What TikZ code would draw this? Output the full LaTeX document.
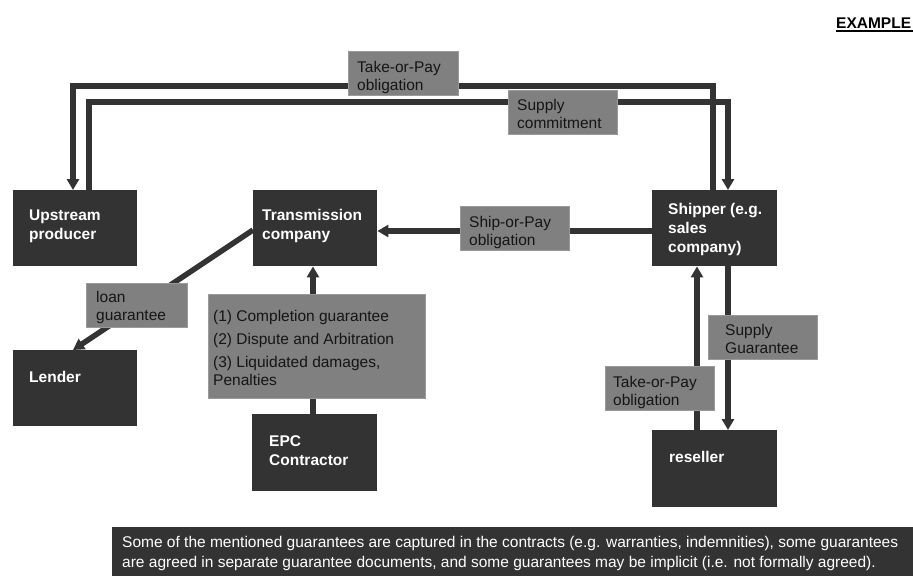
\documentclass[tikz,border=0pt]{standalone}
\usepackage{fontspec}
\setmainfont{Liberation Sans}
\usetikzlibrary{arrows.meta,calc}
\definecolor{boxc}{HTML}{333333}
\definecolor{lblc}{HTML}{808080}
\definecolor{lbledge}{HTML}{9A9A9A}
\definecolor{lbltext}{HTML}{151515}
\begin{document}
\fontsize{15.5}{19}\selectfont
\begin{tikzpicture}[x=1pt,y=-1pt,
  party/.style={fill=boxc,draw=none,inner sep=0,anchor=north west,minimum width=124pt,minimum height=76pt},
  partytext/.style={anchor=north west,inner sep=0,align=left,text=white,font=\fontsize{15.5}{19}\selectfont\bfseries},
  tag/.style={fill=lblc,draw=lbledge,line width=0.6pt,inner sep=0,anchor=north west,minimum width=109pt,minimum height=44pt},
  tagtext/.style={anchor=north west,inner sep=0,align=left,text=lbltext,font=\fontsize{15.5}{18}\selectfont},
  conn/.style={draw=boxc,line width=5.5pt},
  tip/.style={-{Triangle[width=12pt,length=11pt]}}
]
\useasboundingbox (0,0) rectangle (913,576);

% heading
\node[anchor=base west,inner sep=0,font=\fontsize{15.5}{19}\selectfont\bfseries] (hdr) at (836,28) {EXAMPLE};
\draw[line width=1.3pt] ($(hdr.base west)+(0,3)$) -- ($(hdr.base west)+(77,3)$);

% parties
\node[party] (ups) at (13,190) {};
\node[party] (trn) at (253,190) {};
\node[party,minimum width=125pt] (shp) at (652,190) {};
\node[party] (lnd) at (13,350) {};
\node[party,minimum width=125pt,minimum height=77pt] (epc) at (252,414) {};
\node[party,minimum width=125pt,minimum height=77pt] (res) at (652,430) {};

% routing points of the connectors
\coordinate (topA) at (713,86);
\coordinate (topB) at (73,86);
\coordinate (supA) at (89,102);
\coordinate (supB) at (728,102);
\coordinate (shipY) at (600,231);
\coordinate (midX) at (313,300);
\coordinate (upX) at (697,300);
\coordinate (downX) at (728,300);

% connectors
\draw[conn,tip] (shp.north -| topA) -- (topA) -- (topB) -- (ups.north -| topB);
\draw[conn,tip] (ups.north -| supA) -- (supA) -- (supB) -- (shp.north -| supB);
\draw[conn,tip] (shp.west |- shipY) -- (trn.east |- shipY);
\draw[conn,tip] ($(trn.north west)+(0,40)$) -- ($(lnd.north west)+(60,0)$);
\draw[conn,tip] (res.north -| upX) -- (shp.south -| upX);
\draw[conn,tip] (shp.south -| downX) -- (res.north -| downX);

% agreement tags
\node[tag,minimum width=110pt] (tagTop) at (348,51) {};
\node[tag] (tagSup) at (508,90) {};
\node[tag] (tagShip) at (460,206) {};
\node[tag,minimum width=101pt] (tagLoan) at (86,283) {};
\node[tag,minimum width=217pt,minimum height=104pt] (tagEpc) at (208,294) {};
\node[tag] (tagGua) at (708,315) {};
\node[tag] (tagRes) at (605,366) {};

\draw[conn,tip] (tagEpc.north -| midX) -- (trn.south -| midX);
\draw[conn] (epc.north -| midX) -- (tagEpc.south -| midX);

% tag texts
\node[tagtext] (tTop) at (357,61) {Take-or-Pay\\obligation};
\node[tagtext] (tSup) at (517,99) {Supply\\commitment};
\node[tagtext] (tShip) at (469,216) {Ship-or-Pay\\obligation};
\node[tagtext] (tLoan) at (96,291) {loan\\guarantee};
\node[tagtext] (tEpc) at (213,310) {(1) Completion guarantee\\[5pt](2) Dispute and Arbitration\\[5pt](3) Liquidated damages,\\Penalties};
\node[tagtext] (tGua) at (725,324) {Supply\\Guarantee};
\node[tagtext] (tRes) at (613,376) {Take-or-Pay\\obligation};

% party texts
\node[partytext] (tUps) at (29,210) {Upstream\\producer};
\node[partytext] (tTrn) at (262,209) {Transmission\\company};
\node[partytext] (tShp) at (668,203) {Shipper (e.g.\\sales\\company)};
\node[partytext] (tLnd) at (29,371) {Lender};
\node[partytext] (tEpcC) at (269,435) {EPC\\Contractor};
\node[partytext] (tResC) at (669,451) {reseller};

% footnote bar
\node[fill=boxc,inner sep=0,anchor=north west,minimum width=801pt,minimum height=49pt] (note) at (112,527) {};
\node[anchor=north west,inner sep=0,align=left,text=white,font=\fontsize{15.5}{20}\selectfont] (noteT) at (122,536)
  {Some of the mentioned guarantees are captured in the contracts (e.g. warranties, indemnities), some guarantees\\are agreed in separate guarantee documents, and some guarantees may be implicit (i.e. not formally agreed).};
\end{tikzpicture}
\end{document}
